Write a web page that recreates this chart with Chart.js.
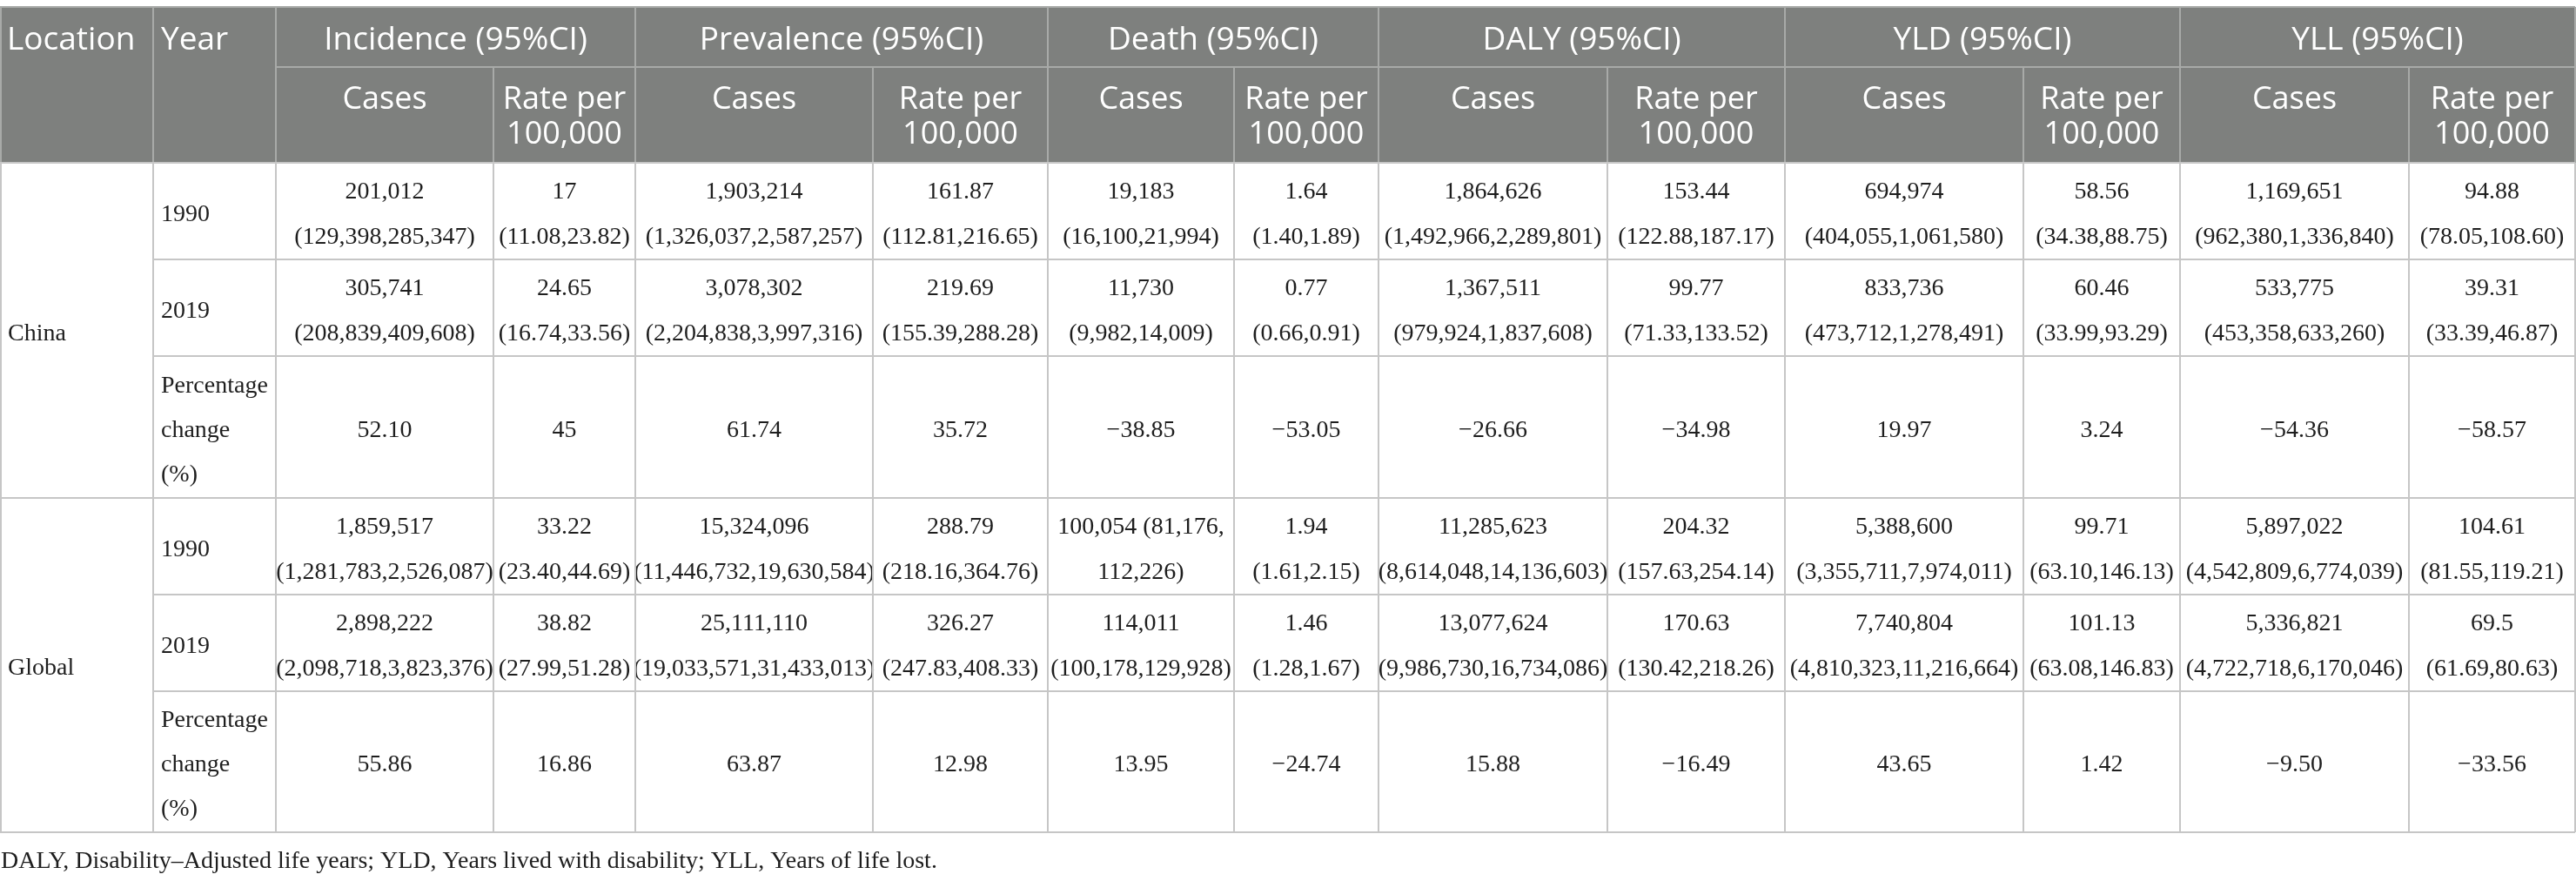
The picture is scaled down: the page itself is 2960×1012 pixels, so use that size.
<!DOCTYPE html>
<html>
<head>
<meta charset="utf-8">
<script src="https://cdn.jsdelivr.net/npm/chart.js@4/dist/chart.umd.min.js"></script>
<style>
  html, body { margin: 0; padding: 0; background: #fff; }
  canvas { display: block; }
</style>
</head>
<body>
<canvas id="myChart" width="2960" height="1012"></canvas>
<script>
// table content
var locations = ["China", "Global"];
var periods = ["1990", "2019", "Percentage\nchange\n(%)"];
var measures = ["Incidence (95%CI)", "Prevalence (95%CI)", "Death (95%CI)", "DALY (95%CI)", "YLD (95%CI)", "YLL (95%CI)"];
var subHeads = ["Cases", "Rate per\n100,000"];

var china1990 = ["201,012\n(129,398,285,347)", "17\n(11.08,23.82)", "1,903,214\n(1,326,037,2,587,257)", "161.87\n(112.81,216.65)",
  "19,183\n(16,100,21,994)", "1.64\n(1.40,1.89)", "1,864,626\n(1,492,966,2,289,801)", "153.44\n(122.88,187.17)",
  "694,974\n(404,055,1,061,580)", "58.56\n(34.38,88.75)", "1,169,651\n(962,380,1,336,840)", "94.88\n(78.05,108.60)"];
var china2019 = ["305,741\n(208,839,409,608)", "24.65\n(16.74,33.56)", "3,078,302\n(2,204,838,3,997,316)", "219.69\n(155.39,288.28)",
  "11,730\n(9,982,14,009)", "0.77\n(0.66,0.91)", "1,367,511\n(979,924,1,837,608)", "99.77\n(71.33,133.52)",
  "833,736\n(473,712,1,278,491)", "60.46\n(33.99,93.29)", "533,775\n(453,358,633,260)", "39.31\n(33.39,46.87)"];
var chinaChange = ["52.10", "45", "61.74", "35.72", "\u221238.85", "\u221253.05", "\u221226.66", "\u221234.98", "19.97", "3.24", "\u221254.36", "\u221258.57"];
var global1990 = ["1,859,517\n(1,281,783,2,526,087)", "33.22\n(23.40,44.69)", "15,324,096\n(11,446,732,19,630,584)", "288.79\n(218.16,364.76)",
  "100,054 (81,176,\n112,226)", "1.94\n(1.61,2.15)", "11,285,623\n(8,614,048,14,136,603)", "204.32\n(157.63,254.14)",
  "5,388,600\n(3,355,711,7,974,011)", "99.71\n(63.10,146.13)", "5,897,022\n(4,542,809,6,774,039)", "104.61\n(81.55,119.21)"];
var global2019 = ["2,898,222\n(2,098,718,3,823,376)", "38.82\n(27.99,51.28)", "25,111,110\n(19,033,571,31,433,013)", "326.27\n(247.83,408.33)",
  "114,011\n(100,178,129,928)", "1.46\n(1.28,1.67)", "13,077,624\n(9,986,730,16,734,086)", "170.63\n(130.42,218.26)",
  "7,740,804\n(4,810,323,11,216,664)", "101.13\n(63.08,146.83)", "5,336,821\n(4,722,718,6,170,046)", "69.5\n(61.69,80.63)"];
var globalChange = ["55.86", "16.86", "63.87", "12.98", "13.95", "\u221224.74", "15.88", "\u221216.49", "43.65", "1.42", "\u22129.50", "\u221233.56"];
var footnote = "DALY, Disability\u2013Adjusted life years; YLD, Years lived with disability; YLL, Years of life lost.";

var bodyRows = [
  [china1990, china2019, chinaChange],
  [global1990, global2019, globalChange]
];

// layout (in scale units)
var colEdges = [0, 176, 317, 567, 730, 1003, 1204, 1418, 1584, 1847, 2051, 2325, 2505, 2768, 2959];
var rowEdges = [8, 77, 187, 298, 409, 572, 683, 794, 956];
var footY = 990;

var headFill = "#7e807e";
var headLine = "#a8aaa8";
var bodyLine = "#c6c6c6";
var headFont = "37px 'Open Sans'";
var subFont = "36px 'Open Sans'";
var bodyFont = "28px 'Liberation Serif'";

function lines(ctx, txt, x, cy, step) {
  var parts = txt.split("\n");
  var y0 = cy - (parts.length - 1) * step / 2;
  parts.forEach(function (p, i) { ctx.fillText(p, x, y0 + i * step); });
}

var tablePlugin = {
  id: "table",
  afterDraw: function (chart) {
    var ctx = chart.ctx;
    var sx = chart.scales.x, sy = chart.scales.y;
    var X = function (i) { return sx.getPixelForValue(colEdges[i]); };
    var Y = function (i) { return sy.getPixelForValue(rowEdges[i]); };
    ctx.save();

    // header band
    ctx.fillStyle = headFill;
    ctx.fillRect(X(0), Y(0), X(colEdges.length - 1) - X(0), Y(2) - Y(0));

    // header text
    ctx.fillStyle = "#fff";
    ctx.font = headFont;
    ctx.textBaseline = "alphabetic";
    ctx.textAlign = "left";
    ctx.fillText("Location", X(0) + 8, Y(0) + 49);
    ctx.fillText("Year", X(1) + 9, Y(0) + 49);
    ctx.textAlign = "center";
    measures.forEach(function (m, k) {
      var a = X(2 + 2 * k), b = X(4 + 2 * k);
      ctx.font = headFont;
      ctx.fillText(m, (a + b) / 2, Y(0) + 49);
      ctx.font = subFont;
      subHeads.forEach(function (s, j) {
        var c0 = X(2 + 2 * k + j), c1 = X(3 + 2 * k + j);
        s.split("\n").forEach(function (p, i) {
          ctx.fillText(p, (c0 + c1) / 2, Y(1) + 48 + i * 40);
        });
      });
    });

    // body text
    ctx.fillStyle = "#1e1e1e";
    ctx.font = bodyFont;
    ctx.textBaseline = "middle";
    bodyRows.forEach(function (group, g) {
      var top = Y(2 + 3 * g), bot = Y(5 + 3 * g);
      ctx.textAlign = "left";
      ctx.fillText(locations[g], X(0) + 9, (top + bot) / 2 + 4);
      group.forEach(function (row, r) {
        var t = Y(2 + 3 * g + r), b = Y(3 + 3 * g + r);
        var cy = (t + b) / 2 + 4;
        ctx.textAlign = "left";
        lines(ctx, periods[r], X(1) + 9, cy, 51);
        ctx.textAlign = "center";
        row.forEach(function (v, c) {
          lines(ctx, v, (X(2 + c) + X(3 + c)) / 2, cy, 52);
        });
      });
    });

    // footnote
    ctx.textAlign = "left";
    ctx.fillText(footnote, X(0) + 1, sy.getPixelForValue(footY));

    // grid lines
    function hline(y, x0, x1, col, w) {
      ctx.strokeStyle = col; ctx.lineWidth = w;
      ctx.beginPath(); ctx.moveTo(x0, y); ctx.lineTo(x1, y); ctx.stroke();
    }
    function vline(x, y0, y1, col, w) {
      ctx.strokeStyle = col; ctx.lineWidth = w;
      ctx.beginPath(); ctx.moveTo(x, y0); ctx.lineTo(x, y1); ctx.stroke();
    }
    var L = X(0), R = X(colEdges.length - 1);
    hline(Y(0), L, R, headLine, 2);
    // header verticals
    vline(L + 1, Y(0), Y(2), headLine, 2);
    vline(X(1), Y(0), Y(2), headLine, 2);
    vline(R, Y(0), Y(2), headLine, 2);
    for (var k = 0; k <= measures.length; k++) {
      vline(X(2 + 2 * k), Y(0), Y(2), headLine, 2);
      if (k < measures.length) vline(X(3 + 2 * k), Y(1), Y(2), headLine, 2);
    }
    hline(Y(1), X(2), R, headLine, 2);
    hline(Y(2), L, R, bodyLine, 2);
    // body lines
    for (var i = 3; i < rowEdges.length; i++) {
      var major = (i === 5 || i === 8);
      hline(Y(i), major ? L : X(1), R, bodyLine, 2);
    }
    vline(L + 1, Y(2), Y(8), bodyLine, 2);
    for (var c = 1; c < colEdges.length; c++) {
      vline(c === colEdges.length - 1 ? R : X(c), Y(2), Y(8), bodyLine, 2);
    }
    ctx.restore();
  }
};

function makeChart() {
  var ctx = document.getElementById("myChart");
  var myChart = new Chart(ctx, {
    type: "scatter",
    data: { datasets: [{ data: [] }] },
    options: {
      responsive: false,
      animation: false,
      layout: { padding: 0 },
      plugins: { legend: { display: false }, tooltip: { enabled: false } },
      scales: {
        x: { type: "linear", min: 0, max: 2960, display: false },
        y: { type: "linear", min: 0, max: 1012, reverse: true, display: false }
      }
    },
    plugins: [tablePlugin]
  });
}

// wait for the installed fonts before the canvas draws text
Promise.all([document.fonts.load(headFont), document.fonts.load(subFont), document.fonts.load(bodyFont)])
  .then(makeChart, makeChart);
</script>
</body>
</html>
